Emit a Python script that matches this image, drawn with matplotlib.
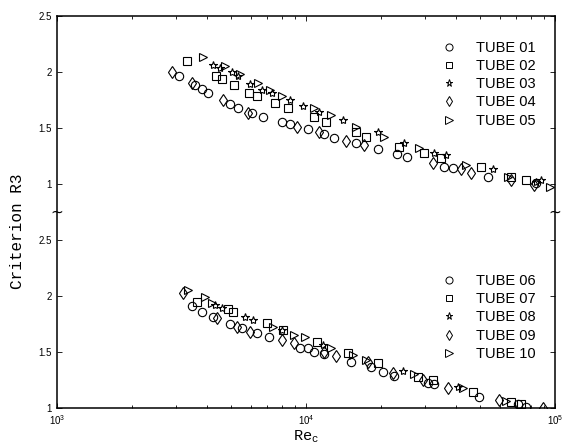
import numpy as np
import matplotlib
matplotlib.use("Agg")
import matplotlib.pyplot as plt
from matplotlib.lines import Line2D

# Upper group (plotted with an offset of 2 on a single broken axis)
re_01 = [3100, 3590, 3830, 4050, 4970, 5350, 6090, 6750, 8040, 8660, 10230,
         11760, 12900, 15820, 19400, 23130, 25380, 35750, 38870, 53770, 83850]
r3_01 = [1.96, 1.88, 1.85, 1.81, 1.71, 1.68, 1.63, 1.60, 1.55, 1.54, 1.49,
         1.45, 1.41, 1.37, 1.31, 1.27, 1.24, 1.15, 1.14, 1.06, 1.01]

re_02 = [3340, 4360, 4610, 5160, 5930, 6380, 7540, 8430, 10720, 11980, 15820,
         17350, 23560, 29710, 34770, 50370, 66520, 76430]
r3_02 = [2.10, 1.96, 1.94, 1.88, 1.81, 1.79, 1.72, 1.68, 1.60, 1.55, 1.46,
         1.42, 1.33, 1.28, 1.23, 1.15, 1.06, 1.04]

re_03 = [4240, 4530, 5060, 5350, 5980, 6680, 7330, 8660, 9770, 11230, 14030,
         19400, 24690, 32600, 36420, 56300, 83850, 87830]
r3_03 = [2.06, 2.04, 2.00, 1.96, 1.89, 1.84, 1.81, 1.75, 1.70, 1.64, 1.57,
         1.46, 1.37, 1.28, 1.26, 1.13, 1.02, 1.04]

re_04 = [2900, 3490, 4660, 5870, 9160, 11230, 14420, 17030, 32280, 41860,
         45920, 66520, 82300]
r3_04 = [2.00, 1.90, 1.75, 1.63, 1.51, 1.46, 1.38, 1.35, 1.19, 1.13,
         1.10, 1.04, 0.99]

re_05 = [3870, 4740, 5450, 6440, 7200, 8040, 10720, 12550, 15820, 20510,
         28360, 43840, 64710, 95480]
r3_05 = [2.13, 2.05, 1.98, 1.90, 1.84, 1.79, 1.68, 1.62, 1.51, 1.42,
         1.32, 1.17, 1.06, 0.97]

# Lower group
re_06 = [3490, 3830, 4240, 4970, 5550, 6380, 7070, 9500, 10140, 10720, 11760,
         15100, 18180, 20320, 22500, 30830, 32600, 49450, 70980, 76430]
r3_06 = [1.91, 1.86, 1.81, 1.75, 1.71, 1.67, 1.63, 1.54, 1.54, 1.50, 1.48,
         1.41, 1.37, 1.32, 1.29, 1.22, 1.21, 1.10, 1.04, 1.01]

re_07 = [3660, 4880, 5110, 7000, 8120, 11120, 14690, 19400, 28100, 32280,
         46770, 66520, 72990]
r3_07 = [1.95, 1.88, 1.86, 1.76, 1.70, 1.59, 1.49, 1.40, 1.28, 1.25,
         1.14, 1.05, 1.04]

re_08 = [4320, 4610, 5710, 6150, 8040, 11650, 24450, 40720]
r3_08 = [1.92, 1.89, 1.81, 1.79, 1.70, 1.56, 1.33, 1.19]

re_09 = [3210, 4400, 5300, 5980, 8040, 8910, 11760, 13140, 17680, 22290,
         29430, 37100, 59500, 89500]
r3_09 = [2.03, 1.80, 1.72, 1.68, 1.61, 1.58, 1.50, 1.46, 1.41, 1.31,
         1.25, 1.18, 1.07, 1.00]

re_10 = [3370, 3940, 4210, 7400, 8910, 9950, 12550, 15390, 17350, 27080,
         42650, 63520]
r3_10 = [2.05, 1.99, 1.94, 1.72, 1.65, 1.63, 1.54, 1.47, 1.43, 1.30,
         1.18, 1.06]

upper = [("TUBE 01", re_01, r3_01, "o"), ("TUBE 02", re_02, r3_02, "s"),
         ("TUBE 03", re_03, r3_03, "*"), ("TUBE 04", re_04, r3_04, "d"),
         ("TUBE 05", re_05, r3_05, ">")]
lower = [("TUBE 06", re_06, r3_06, "o"), ("TUBE 07", re_07, r3_07, "s"),
         ("TUBE 08", re_08, r3_08, "*"), ("TUBE 09", re_09, r3_09, "d"),
         ("TUBE 10", re_10, r3_10, ">")]
offset = 2.0

ytick_pos = [1, 1.5, 2, 2.5, 3, 3.5, 4, 4.5]
ytick_lab = ["1", "1.5", "2", "2.5", "1", "1.5", "2", "2.5"]

plt.rcParams["font.family"] = "Liberation Sans"
plt.rcParams["mathtext.fontset"] = "dejavusans"
plt.rcParams["mathtext.rm"] = "Liberation Mono"

fig = plt.figure(figsize=(5.68, 4.45), dpi=100)
ax = fig.add_axes([57 / 568, 1 - 408 / 445, 498 / 568, 392 / 445])

msize = {"o": 6.0, "s": 5.2, "*": 6.0, "d": 6.5, ">": 6.0}

def draw(group, shift):
    handles = []
    for name, re, r3, m in group:
        ax.plot(re, np.array(r3) + shift, linestyle="none", marker=m,
                markersize=msize[m], markerfacecolor="none",
                markeredgecolor="black", markeredgewidth=0.8)
        handles.append(Line2D([], [], linestyle="none", marker=m,
                              markersize=msize[m] * 0.85, markerfacecolor="none",
                              markeredgecolor="black", markeredgewidth=0.7,
                              label=name))
    return handles

h_up = draw(upper, offset)
h_lo = draw(lower, 0.0)

ax.set_xscale("log")
ax.set_xlim(1e3, 1e5)
ax.set_ylim(1, 4.5)
ax.set_yticks(ytick_pos)
ax.set_yticklabels(ytick_lab)
ax.tick_params(which="both", direction="in", top=True, right=True,
               labelsize=7, width=0.6)
ax.tick_params(which="major", length=3.5)
ax.tick_params(which="minor", length=2)
for s in ax.spines.values():
    s.set_linewidth(1.1)

# axis break marks
for xb in (0, 1):
    ax.text(xb, 2.75, "~", transform=ax.get_yaxis_transform(),
            ha="center", va="center", fontsize=11, family="DejaVu Sans")

ax.set_ylabel("Criterion R3", family="Liberation Mono", fontsize=11.5)
ax.yaxis.set_label_coords(-0.065, 0.45)
ax.set_xlabel(r"Re$_\mathrm{c}$", family="Liberation Mono", fontsize=11,
              math_fontfamily="custom", labelpad=1)

leg_kw = dict(loc="upper left", frameon=False, fontsize=10.5, handlelength=1.0,
              handletextpad=1.4, labelspacing=0.29, borderpad=0,
              borderaxespad=0, numpoints=1)
leg1 = ax.legend(handles=h_up, bbox_to_anchor=(0.772, 0.937), **leg_kw)
ax.add_artist(leg1)
ax.legend(handles=h_lo, bbox_to_anchor=(0.772, 0.342), **leg_kw)

fig.savefig("out.png", dpi=100)
